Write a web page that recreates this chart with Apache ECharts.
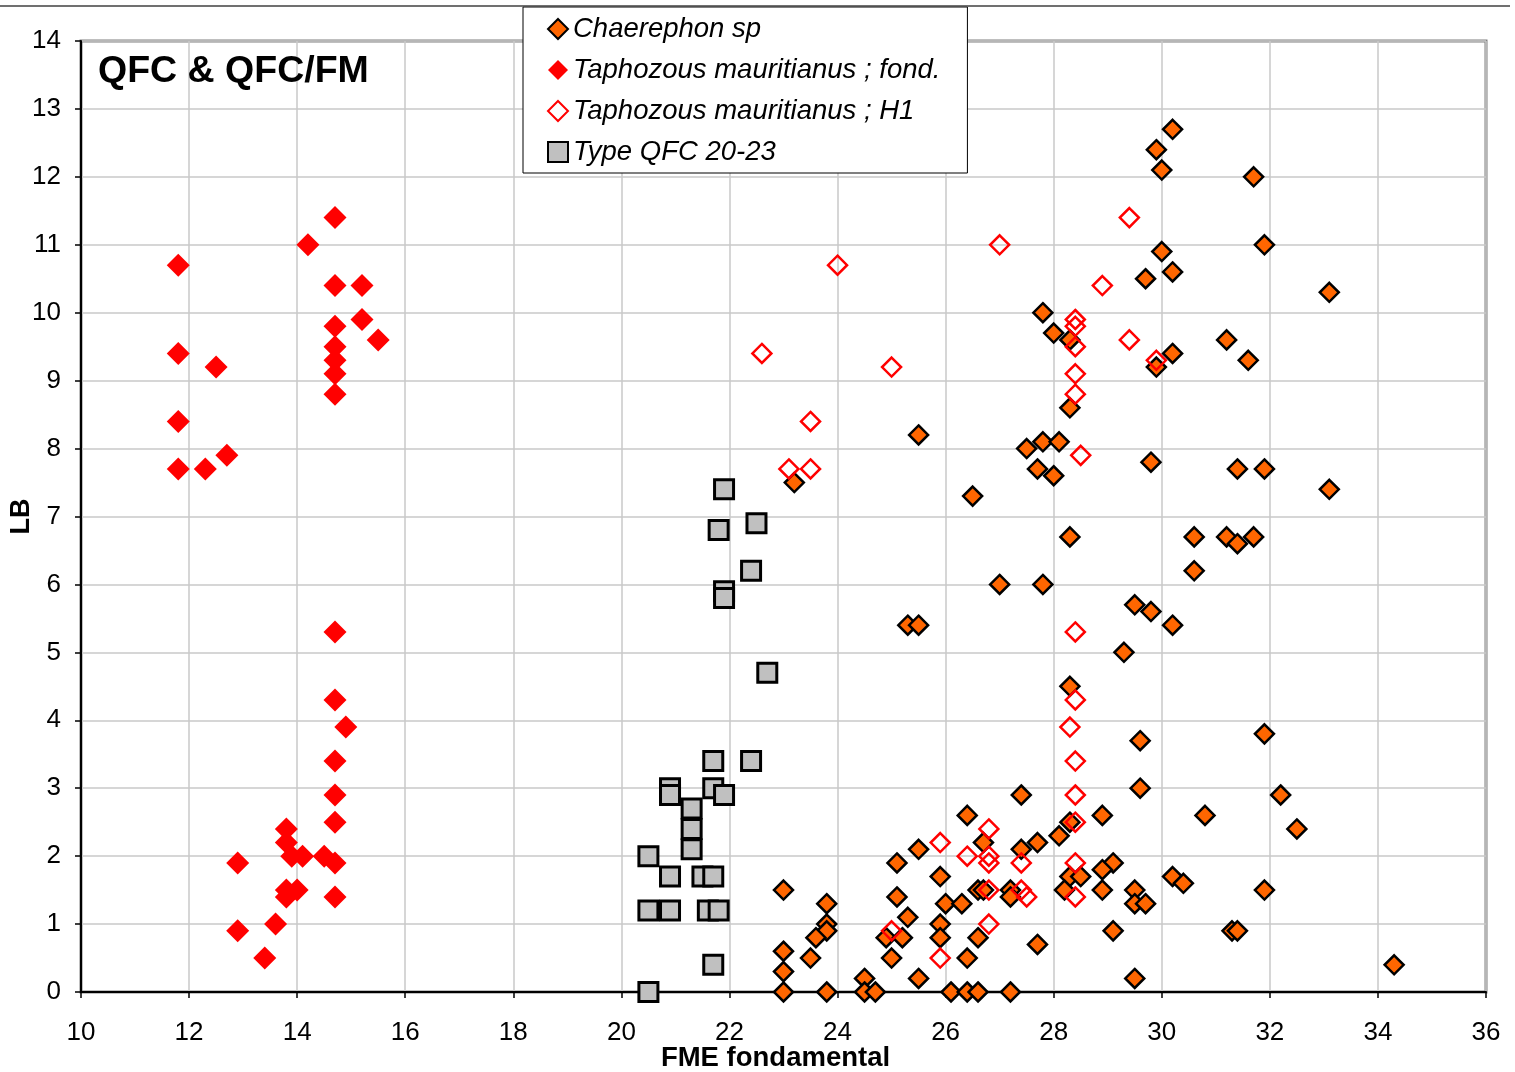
<!DOCTYPE html>
<html>
<head>
<meta charset="utf-8">
<script src="https://cdn.jsdelivr.net/npm/echarts@6/dist/echarts.min.js"></script>
<style>
html,body{margin:0;padding:0;background:#fff;}
#chart{width:1515px;height:1072px;}
</style>
</head>
<body>
<div id="chart"></div>
<script>
const seriesNames = ['Chaerephon sp', 'Taphozous mauritianus ; fond.', 'Taphozous mauritianus ; H1', 'Type QFC 20-23'];
const chartTitle = 'QFC & QFC/FM';
const xAxisTitle = 'FME fondamental';
const yAxisTitle = 'LB';

const chaerephon = [
 [30.2,12.7],[29.9,12.4],[30.0,12.1],[31.7,12.0],[31.9,11.0],[30.0,10.9],[30.2,10.6],[29.7,10.5],[33.1,10.3],
 [27.8,10.0],[28.0,9.7],[28.3,9.6],[31.2,9.6],[30.2,9.4],[31.6,9.3],[29.9,9.2],[28.3,8.6],[25.5,8.2],
 [27.5,8.0],[27.8,8.1],[28.1,8.1],[27.7,7.7],[28.0,7.6],[29.8,7.8],[31.4,7.7],[31.9,7.7],[33.1,7.4],
 [23.2,7.5],[26.5,7.3],[28.3,6.7],[30.6,6.7],[31.2,6.7],[31.4,6.6],[31.7,6.7],[30.6,6.2],[27.0,6.0],
 [27.8,6.0],[29.5,5.7],[29.8,5.6],[25.3,5.4],[25.5,5.4],[30.2,5.4],[29.3,5.0],[28.3,4.5],[29.6,3.7],
 [31.9,3.8],[29.6,3.0],[27.4,2.9],[32.2,2.9],[32.5,2.4],[30.8,2.6],[28.9,2.6],[26.4,2.6],[28.3,2.5],
 [28.1,2.3],[27.7,2.2],[27.4,2.1],[26.7,2.2],[25.5,2.1],[25.1,1.9],[29.1,1.9],[28.9,1.8],[25.9,1.7],
 [28.3,1.7],[28.5,1.7],[30.2,1.7],[30.4,1.6],[23.0,1.5],[26.6,1.5],[26.7,1.5],[27.2,1.5],[27.2,1.4],
 [28.2,1.5],[28.9,1.5],[29.5,1.5],[31.9,1.5],[25.1,1.4],[23.8,1.3],[26.0,1.3],[26.3,1.3],[29.5,1.3],
 [29.7,1.3],[25.3,1.1],[25.9,1.0],[23.8,1.0],[23.8,0.9],[29.1,0.9],[31.3,0.9],[31.4,0.9],[23.6,0.8],
 [24.9,0.8],[25.2,0.8],[25.9,0.8],[26.6,0.8],[27.7,0.7],[23.0,0.6],[23.5,0.5],[25.0,0.5],[26.4,0.5],
 [23.0,0.3],[24.5,0.2],[25.5,0.2],[29.5,0.2],[34.3,0.4],[23.0,0.0],[23.8,0.0],[24.5,0.0],[24.7,0.0],
 [26.1,0.0],[26.4,0.0],[26.6,0.0],[27.2,0.0]
];

const taphozousFond = [
 [11.8,10.7],[14.2,11.0],[14.7,11.4],[14.7,10.4],[15.2,10.4],[14.7,9.8],[15.2,9.9],[15.5,9.6],
 [14.7,9.5],[14.7,9.3],[14.7,9.1],[14.7,8.8],[11.8,9.4],[12.5,9.2],[11.8,8.4],[11.8,7.7],[12.3,7.7],
 [12.7,7.9],[14.7,5.3],[14.7,4.3],[14.9,3.9],[14.7,3.4],[14.7,2.9],[14.7,2.5],[14.7,1.9],[14.7,1.4],
 [12.9,1.9],[12.9,0.9],[13.6,1.0],[13.4,0.5],[13.8,2.4],[13.8,2.2],[13.9,2.0],[14.1,2.0],[14.5,2.0],
 [13.8,1.5],[13.8,1.4],[14.0,1.5]
];

const taphozousH1 = [
 [24.0,10.7],[22.6,9.4],[25.0,9.2],[23.5,8.4],[23.1,7.7],[23.5,7.7],[27.0,11.0],[29.4,11.4],[28.9,10.4],
 [29.4,9.6],[28.4,9.9],[28.4,9.8],[28.4,9.5],[29.9,9.3],[28.4,9.1],[28.4,8.8],[28.5,7.9],[28.4,5.3],
 [28.4,4.3],[28.3,3.9],[28.4,3.4],[28.4,2.9],[28.4,2.5],[28.4,1.9],[28.4,1.4],[25.9,2.2],[26.8,2.4],
 [26.4,2.0],[26.8,2.0],[26.8,1.9],[27.4,1.9],[26.8,1.5],[27.4,1.5],[27.5,1.4],[26.8,1.0],[25.0,0.9],
 [25.9,0.5]
];

const typeQFC = [
 [21.9,7.4],[22.5,6.9],[21.8,6.8],[22.4,6.2],[21.9,5.9],[21.9,5.8],[22.7,4.7],[21.7,3.4],[22.4,3.4],
 [20.9,3.0],[20.9,2.9],[21.7,3.0],[21.9,2.9],[21.3,2.7],[21.3,2.4],[21.3,2.1],[20.5,2.0],[20.9,1.7],
 [21.5,1.7],[21.7,1.7],[20.5,1.2],[20.9,1.2],[21.6,1.2],[21.8,1.2],[21.7,0.4],[20.5,0.0]
];

const FONT = "'Liberation Sans', Arial, sans-serif";
const chart = echarts.init(document.getElementById('chart'), null, {renderer: 'canvas'});
chart.setOption({
  animation: false,
  backgroundColor: '#fff',
  title: {
    text: chartTitle, left: 93, top: 48,
    textStyle: {fontFamily: FONT, fontWeight: 'bold', fontSize: 37.5, color: '#000'}
  },
  graphic: [{
    type: 'line', shape: {x1: 0, y1: 6, x2: 1510, y2: 6},
    style: {stroke: '#404040', lineWidth: 1.5}, z: 100
  }],
  legend: {
    orient: 'vertical', left: 523, top: 7,
    backgroundColor: '#fff', borderColor: '#000', borderWidth: 1,
    padding: [7, 27, 6, 24], itemGap: 11, itemWidth: 20, itemHeight: 20,
    textStyle: {fontFamily: FONT, fontStyle: 'italic', fontSize: 27.5, color: '#000', lineHeight: 30},
    data: seriesNames, z: 20
  },
  grid: {
    left: 81, right: 29, top: 41, bottom: 80,
    outerBoundsMode: 'none', containLabel: false,
    show: true, borderColor: '#808080', borderWidth: 3, backgroundColor: 'transparent'
  },
  xAxis: {
    type: 'value', min: 10, max: 36, interval: 2,
    name: xAxisTitle, nameLocation: 'middle', nameGap: 52, nameMoveOverlap: false,
    nameTextStyle: {fontFamily: FONT, fontWeight: 'bold', fontSize: 27.5, color: '#000', padding: [0, 16, 0, 0]},
    axisLine: {show: true, lineStyle: {color: '#000', width: 2}},
    axisTick: {show: true, length: 6, inside: false, lineStyle: {color: '#000', width: 1.5}},
    axisLabel: {fontFamily: FONT, fontSize: 26, color: '#000', margin: 28},
    splitLine: {show: true, lineStyle: {color: '#c8c8c8', width: 1.5}}
  },
  yAxis: {
    type: 'value', min: 0, max: 14, interval: 1,
    name: yAxisTitle, nameLocation: 'middle', nameGap: 46, nameRotate: 90, nameMoveOverlap: false,
    nameTextStyle: {fontFamily: FONT, fontWeight: 'bold', fontSize: 27, color: '#000'},
    axisLine: {show: true, lineStyle: {color: '#000', width: 2}},
    axisTick: {show: true, length: 6, inside: false, lineStyle: {color: '#000', width: 1.5}},
    axisLabel: {fontFamily: FONT, fontSize: 26, color: '#000', margin: 20},
    splitLine: {show: true, lineStyle: {color: '#c8c8c8', width: 1.5}}
  },
  series: [
    {
      name: seriesNames[0], type: 'scatter', data: chaerephon,
      symbol: 'diamond', symbolSize: 19,
      itemStyle: {color: '#FF6600', borderColor: '#000', borderWidth: 2.5, opacity: 1}
    },
    {
      name: seriesNames[1], type: 'scatter', data: taphozousFond,
      symbol: 'diamond', symbolSize: 23,
      itemStyle: {color: '#FF0000', opacity: 1}
    },
    {
      name: seriesNames[2], type: 'scatter', data: taphozousH1,
      symbol: 'diamond', symbolSize: 19,
      itemStyle: {color: 'rgba(255,255,255,0)', borderColor: '#FF0000', borderWidth: 2.5, opacity: 1}
    },
    {
      name: seriesNames[3], type: 'scatter', data: typeQFC,
      symbol: 'rect', symbolSize: 19,
      itemStyle: {color: '#C0C0C0', borderColor: '#000', borderWidth: 3, opacity: 1}
    }
  ]
});
</script>
</body>
</html>
